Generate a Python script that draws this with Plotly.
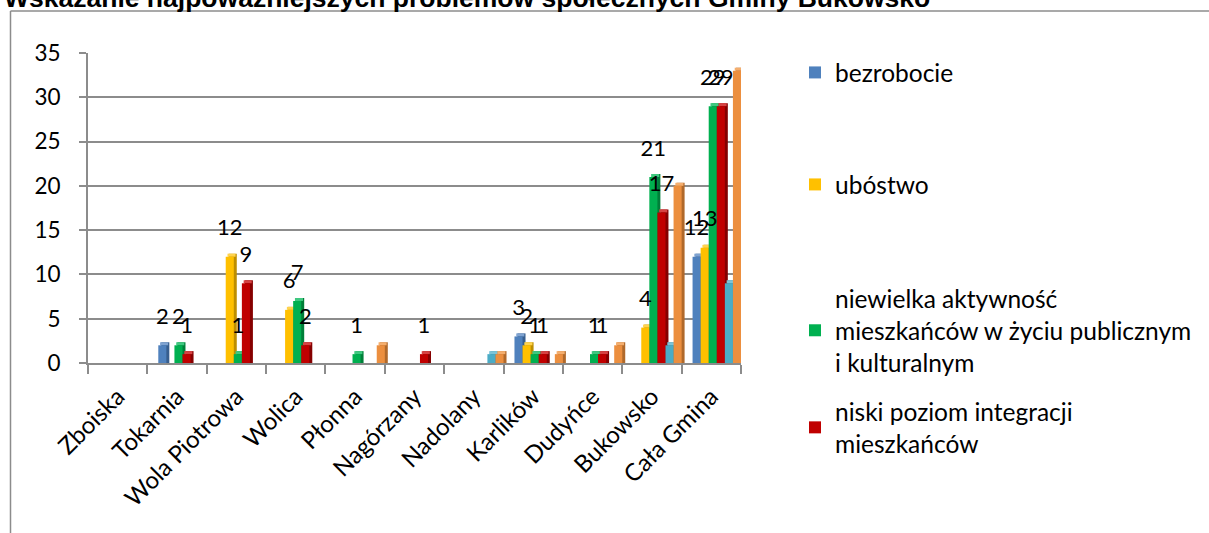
import plotly.graph_objects as go

categories = ["Zboiska", "Tokarnia", "Wola Piotrowa", "Wolica", "Płonna", "Nagórzany",
              "Nadolany", "Karlików", "Dudyńce", "Bukowsko", "Cała Gmina"]

series_names = [
    "bezrobocie",
    "ubóstwo",
    "niewielka aktywność<br>mieszkańców w życiu publicznym<br>i kulturalnym",
    "niski poziom integracji<br>mieszkańców",
    "kategoria 5",
    "kategoria 6",
]

bezrobocie = [0, 2, 0, 0, 0, 0, 0, 3, 0, 0, 12]
ubostwo = [0, 0, 12, 6, 0, 0, 0, 2, 0, 4, 13]
aktywnosc = [0, 2, 1, 7, 1, 0, 0, 1, 1, 21, 29]
integracja = [0, 1, 9, 2, 0, 1, 0, 1, 1, 17, 29]
seria5 = [0, 0, 0, 0, 0, 0, 1, 0, 0, 2, 9]
seria6 = [0, 0, 0, 0, 2, 0, 1, 1, 2, 20, 33]

y_ticks = [0, 5, 10, 15, 20, 25, 30, 35]

title_text = "Wskazanie najpoważniejszych problemów społecznych Gminy Bukowsko"

values = [bezrobocie, ubostwo, aktywnosc, integracja, seria5, seria6]
labelled = [True, True, True, True, False, False]

front_colors = ["#4F81BD", "#FFC000", "#00B050", "#C00000", "#4BACC6", "#EC8F3F"]
side_colors = ["#375E8E", "#BD8E00", "#007F39", "#850000", "#31839A", "#B0692B"]
top_colors = ["#7FA3D1", "#FFD34D", "#40C880", "#D64343", "#7CC4D8", "#F4AE6E"]

# geometry (pixels -> paper helpers)
PL, PR, PT, PB = 88, 741, 53, 363
W, H = 1209, 533


def px_x(p):
    return (p - PL) / (PR - PL)


def px_y(p):
    return (PB - p) / (PB - PT)


bar_w = 0.136
group_left = -0.316
depth_x = 0.05
depth_y = 0.34
FONT = "Lato"

fig = go.Figure()
idx = list(range(len(categories)))

for i, vals in enumerate(values):
    c = group_left + bar_w * (i + 0.5)
    xs = [k + c for k in idx]
    nz = [v if v > 0 else None for v in vals]
    # side face (depth)
    fig.add_trace(go.Bar(
        x=[x + depth_x for x in xs], y=[v + depth_y if v else None for v in nz],
        width=bar_w, marker=dict(color=side_colors[i], line=dict(width=0)),
        showlegend=False, hoverinfo="skip", cliponaxis=False))
    # top face
    fig.add_trace(go.Bar(
        x=[x + depth_x * 0.6 for x in xs], y=[depth_y if v else None for v in nz],
        base=[v if v else None for v in nz],
        width=bar_w, marker=dict(color=top_colors[i], line=dict(width=0)),
        showlegend=False, hoverinfo="skip", cliponaxis=False))
    # front face
    leg = "legend" if i == 0 else f"legend{i + 1}"
    fig.add_trace(go.Bar(
        x=xs, y=nz, width=bar_w, name=series_names[i],
        marker=dict(color=front_colors[i], line=dict(width=0)),
        showlegend=i < 4, legend=leg if i < 4 else None,
        hoverinfo="skip", cliponaxis=False))

# data labels on top of everything
for i, vals in enumerate(values):
    if not labelled[i]:
        continue
    c = group_left + bar_w * (i + 0.5)
    xs = [k + c for k in idx]
    fig.add_trace(go.Scatter(
        x=xs, y=[v if v > 0 else None for v in vals],
        text=[str(v) if v > 0 else "" for v in vals],
        mode="markers+text", textposition="top center",
        marker=dict(size=24, opacity=0),
        textfont=dict(family=FONT, size=22, color="#000000"),
        showlegend=False, hoverinfo="skip", cliponaxis=False))

grid_col = "#8C8C8C"

fig.update_layout(
    width=W, height=H,
    margin=dict(l=PL, r=W - PR, t=PT, b=H - PB, pad=0, autoexpand=False),
    paper_bgcolor="white", plot_bgcolor="white",
    barmode="overlay",
    hovermode=False,
    font=dict(family=FONT, size=22, color="#000000"),
    xaxis=dict(
        range=[-0.5, len(categories) - 0.5],
        tickvals=idx, ticktext=categories, ticks="",
        tickangle=-45, tickfont=dict(family=FONT, size=24, color="#000000"),
        ticklabelstandoff=8,
        showline=True, linecolor=grid_col, linewidth=2,
        showgrid=False, zeroline=False,
        minor=dict(tickvals=[k - 0.5 for k in range(len(categories) + 1)],
                   ticks="outside", ticklen=9, tickcolor=grid_col, tickwidth=2,
                   showgrid=False),
    ),
    yaxis=dict(
        range=[0, 35], tickvals=y_ticks,
        ticks="outside", ticklen=7, tickcolor=grid_col, tickwidth=2,
        ticklabelstandoff=14,
        showline=True, linecolor=grid_col, linewidth=2,
        showgrid=True, gridcolor=grid_col, gridwidth=2,
        zeroline=False,
        tickfont=dict(family=FONT, size=22.5, color="#000000"),
    ),
)

legend_tops = [50, 162, 276, 389]
leg_font = dict(family=FONT, size=24.5, color="#000000")
for j, top in enumerate(legend_tops):
    key = "legend" if j == 0 else f"legend{j + 1}"
    fig.update_layout({key: dict(
        x=px_x(795), y=px_y(top), xanchor="left", yanchor="top",
        bgcolor="rgba(0,0,0,0)", borderwidth=0, font=leg_font,
        itemclick=False, itemdoubleclick=False,
    )})

fig.add_annotation(
    text="<b>" + title_text + "</b>", xref="paper", yref="paper",
    x=px_x(2), y=px_y(-2.5), xanchor="left", yanchor="middle",
    showarrow=False, font=dict(family="Liberation Sans", size=26.5, color="#000000"),
)

frame_col = "#8C8C8C"
fig.add_shape(type="line", xref="paper", yref="paper",
              x0=px_x(10.5), x1=px_x(W + 2), y0=px_y(11), y1=px_y(11),
              line=dict(color=frame_col, width=1.5))
fig.add_shape(type="line", xref="paper", yref="paper",
              x0=px_x(10.5), x1=px_x(10.5), y0=px_y(11), y1=px_y(H + 2),
              line=dict(color=frame_col, width=1.5))

fig.write_html(
    "out.html",
    config={"displayModeBar": False},
    post_script="document.body.style.margin='0';document.body.style.overflow='hidden';",
)
